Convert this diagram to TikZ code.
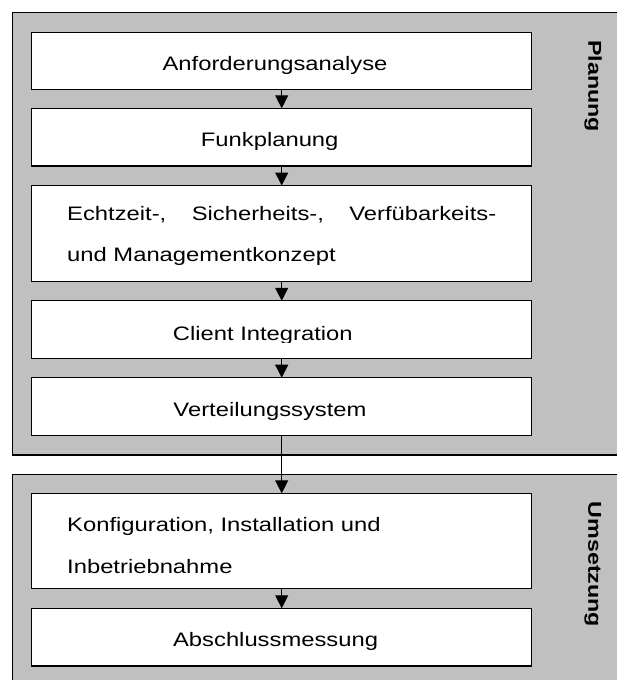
\documentclass[tikz,border=0pt]{standalone}
\usepackage{fontspec}
\setmainfont{Liberation Sans}[FakeStretch=1.22]
\newfontfamily\phasefont{Liberation Sans}[FakeStretch=1.25]
\usetikzlibrary{arrows.meta}
\definecolor{framegray}{HTML}{C0C0C0}
\begin{document}
\begin{tikzpicture}[x=1pt,y=-1pt,
  frame/.style={fill=framegray, draw=black, line width=1.3pt},
  stepbox/.style={draw=black, fill=white, line width=1.3pt, outer sep=0pt, inner sep=0pt, minimum width=500pt},
  txt/.style={inner sep=0pt, anchor=base, font=\fontsize{19.5}{20}\selectfont},
  ltxt/.style={inner sep=0pt, anchor=base west, font=\fontsize{19.5}{20}\selectfont},
  phase/.style={inner sep=0pt, anchor=base west, rotate=-90, font=\phasefont\bfseries\fontsize{18.6}{20}\selectfont},
  arr/.style={-{Triangle[length=13pt,width=13pt]}, line width=1pt}]
\useasboundingbox (0,0) rectangle (617,680);
\clip (0,0) rectangle (617,680);
% phase frames
\path[frame] (12.3,12.5) rectangle (640,455);
\path[frame] (12.3,474.3) rectangle (640,700);
\node[phase] (planung) at (588.3,40) {Planung};
\node[phase] (umsetzung) at (588.3,501.7) {Umsetzung};
% step boxes
\node[stepbox, minimum height=57pt]   (b1) at (281.7,60.8)  {};
\node[stepbox, minimum height=57.7pt] (b2) at (281.7,137.15) {};
\node[stepbox, minimum height=96.2pt] (b3) at (281.7,233.6) {};
\node[stepbox, minimum height=57.5pt] (b4) at (281.7,329.55) {};
\node[stepbox, minimum height=57.8pt] (b5) at (281.7,406.6) {};
\node[stepbox, minimum height=95.4pt] (b6) at (281.7,541) {};
\node[stepbox, minimum height=57.7pt] (b7) at (281.7,637.15) {};
% texts
\begin{scope}
  \clip (0,0) rectangle (617,73.5);
  \node[txt] (t1) at (275,70.7) {Anforderungsanalyse};
\end{scope}
\begin{scope}
  \clip (0,100) rectangle (617,149.5);
  \node[txt] (t2) at (269.7,146.7) {Funkplanung};
\end{scope}
\node[ltxt] (t3a) at (67,220) {\makebox[429pt][s]{Echtzeit-, Sicherheits-, Verfübarkeits-}};
\node[ltxt] (t3b) at (67,261.5) {und Managementkonzept};
\begin{scope}
  \clip (0,300) rectangle (617,342.5);
  \node[txt] (t4) at (262.8,340) {Client Integration};
\end{scope}
\node[txt] (t5) at (270,416.7) {Verteilungssystem};
\node[ltxt] (t6a) at (67,531.7) {Konfiguration, Installation und};
\node[ltxt] (t6b) at (67,573.3) {Inbetriebnahme};
\node[txt] (t7) at (275.6,646.7) {Abschlussmessung};
% connectors
\draw[arr] (b1.south) -- (b2.north);
\draw[arr] (b2.south) -- (b3.north);
\draw[arr] (b3.south) -- (b4.north);
\draw[arr] (b4.south) -- (b5.north);
\draw[arr] (b5.south) -- (b6.north);
\draw[arr] (b6.south) -- (b7.north);
\end{tikzpicture}
\end{document}
